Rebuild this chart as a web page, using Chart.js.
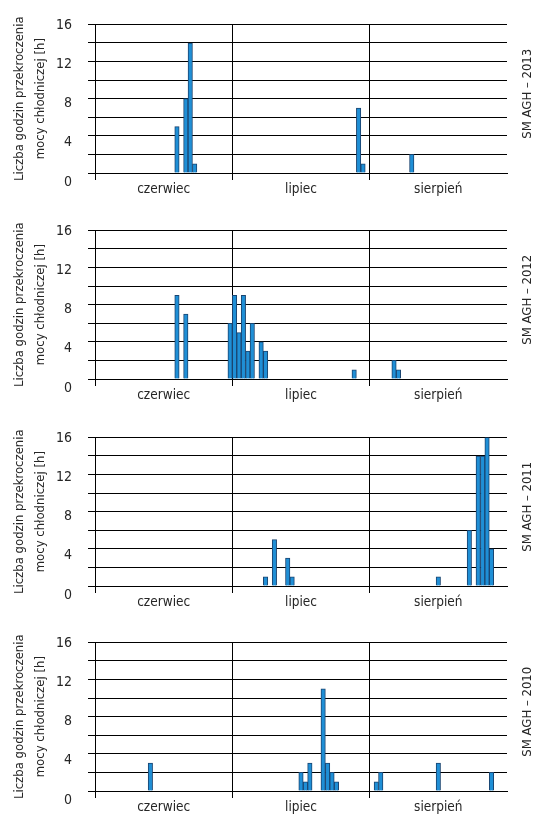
<!DOCTYPE html>
<html><head><meta charset="utf-8">
<script src="https://cdn.jsdelivr.net/npm/chart.js@4/dist/chart.umd.min.js"></script>
<style>
html,body{margin:0;padding:0;background:#fff;}
#wrap{position:relative;width:549px;height:816px;overflow:hidden;background:#fff;}
.panel{position:absolute;left:0;width:549px;height:198px;}
</style></head><body>
<div id="wrap">
<div class="panel" style="top:0px"><canvas id="c2013" width="549" height="198"></canvas></div>
<div class="panel" style="top:206px"><canvas id="c2012" width="549" height="198"></canvas></div>
<div class="panel" style="top:413px"><canvas id="c2011" width="549" height="198"></canvas></div>
<div class="panel" style="top:618px"><canvas id="c2010" width="549" height="198"></canvas></div>
</div>
<script>
// ---- data ----
const monthNames = ['czerwiec', 'lipiec', 'sierpień'];
const dayNumbers = [1,2,3,4,5,6,7,8,9,10,11,12,13,14,15,16,17,18,19,20,21,22,23,24,25,26,27,28,29,30,31];
const yTickLabels = [0, 4, 8, 12, 16];
const yTitle = ['Liczba godzin przekroczenia', 'mocy chłodniczej [h]'];
const stationName = 'SM AGH';

// hours per day: June (31 slots), July, August
const june2013 = [0,0,0,0,0, 0,0,0,0,0, 0,0,0,0,0, 0,0,0,5,0, 8,14,1,0,0, 0,0,0,0,0, 0];
const july2013 = [0,0,0,0,0, 0,0,0,0,0, 0,0,0,0,0, 0,0,0,0,0, 0,0,0,0,0, 0,0,0,7,1, 0];
const aug2013  = [0,0,0,0,0, 0,0,0,0,2, 0,0,0,0,0, 0,0,0,0,0, 0,0,0,0,0, 0,0,0,0,0, 0];

const june2012 = [0,0,0,0,0, 0,0,0,0,0, 0,0,0,0,0, 0,0,0,9,0, 7,0,0,0,0, 0,0,0,0,0, 6];
const july2012 = [9,5,9,3,6, 0,4,3,0,0, 0,0,0,0,0, 0,0,0,0,0, 0,0,0,0,0, 0,0,1,0,0, 0];
const aug2012  = [0,0,0,0,0, 2,1,0,0,0, 0,0,0,0,0, 0,0,0,0,0, 0,0,0,0,0, 0,0,0,0,0, 0];

const june2011 = [0,0,0,0,0, 0,0,0,0,0, 0,0,0,0,0, 0,0,0,0,0, 0,0,0,0,0, 0,0,0,0,0, 0];
const july2011 = [0,0,0,0,0, 0,0,1,0,5, 0,0,3,1,0, 0,0,0,0,0, 0,0,0,0,0, 0,0,0,0,0, 0];
const aug2011  = [0,0,0,0,0, 0,0,0,0,0, 0,0,0,0,0, 1,0,0,0,0, 0,0,6,0,14, 14,16,4,0,0, 0];

const june2010 = [0,0,0,0,0, 0,0,0,0,0, 0,0,3,0,0, 0,0,0,0,0, 0,0,0,0,0, 0,0,0,0,0, 0];
const july2010 = [0,0,0,0,0, 0,0,0,0,0, 0,0,0,0,0, 2,1,3,0,0, 11,3,2,1,0, 0,0,0,0,0, 0];
const aug2010  = [0,1,2,0,0, 0,0,0,0,0, 0,0,0,0,0, 3,0,0,0,0, 0,0,0,0,0, 0,0,2,0,0, 0];

// ---- styling ----
const FONT = "'Liberation Sans Narrow', 'DejaVu Sans Condensed', 'Arial Narrow', 'Liberation Sans', sans-serif";
const TEXT = '#262626';
const BAR_FILL = '#1f8fd6';
const BAR_EDGE = '#1a4470';

const slotLabels = [];
monthNames.forEach(m => dayNumbers.forEach(d => slotLabels.push(d + ' ' + m)));
const perMonth = dayNumbers.length;

const sideLabelPlugin = {
  id: 'sideLabel',
  afterDraw(chart, args, opts) {
    const {ctx, chartArea} = chart;
    ctx.save();
    ctx.translate(chartArea.right + 21, (chartArea.top + chartArea.bottom) / 2 - 5);
    ctx.rotate(-Math.PI / 2);
    ctx.font = '13px ' + FONT;
    ctx.fillStyle = TEXT;
    ctx.textAlign = 'center';
    ctx.textBaseline = 'middle';
    ctx.fillText(opts.text, 0, 0);
    ctx.restore();
  }
};

function makeChart(id, year, june, july, aug) {
  const values = june.concat(july, aug);
  return new Chart(document.getElementById(id), {
    type: 'bar',
    data: {
      labels: slotLabels,
      datasets: [{
        label: stationName + ' – ' + year,
        data: values,
        backgroundColor: BAR_FILL,
        borderColor: BAR_EDGE,
        borderWidth: 1,
        barPercentage: 1,
        categoryPercentage: 1,
        xAxisID: 'x',
        yAxisID: 'y'
      }]
    },
    options: {
      responsive: false,
      animation: false,
      devicePixelRatio: 1,
      layout: { padding: { top: 17, right: 42, left: 0, bottom: 0 } },
      plugins: {
        legend: { display: false },
        tooltip: { enabled: false },
        sideLabel: { text: stationName + ' – ' + year }
      },
      scales: {
        x: {
          type: 'category',
          grid: {
            offset: true,
            color: c => (c.index % perMonth === 0 && c.index < slotLabels.length) ? '#000' : 'rgba(0,0,0,0)',
            lineWidth: 1,
            tickLength: 7,
            drawTicks: true
          },
          border: { display: true, color: '#000' },
          ticks: {
            autoSkip: false, maxRotation: 0, minRotation: 0, padding: 1,
            color: TEXT, font: { family: FONT, size: 13.5 },
            callback: (v, i) => (i % perMonth === Math.floor(perMonth / 2)) ? monthNames[Math.floor(i / perMonth)] : ''
          },
          afterFit: s => { s.height = 25; }
        },
        y: {
          position: 'left',
          weight: 0,
          min: 0, max: 16,
          ticks: { stepSize: 2, display: false },
          grid: { color: '#000', lineWidth: 1, tickLength: 7, drawTicks: true },
          border: { display: true, color: '#000' },
          afterFit: s => { s.width = 7; }
        },
        yl: {
          position: 'left',
          weight: 1,
          min: 0.92, max: 16.07,
          grid: { display: false, drawTicks: false },
          border: { display: false },
          afterBuildTicks: s => { s.ticks = yTickLabels.map(v => ({ value: v })); },
          ticks: { padding: 16, color: TEXT, font: { family: FONT, size: 14 }, autoSkip: false },
          title: {
            display: true, text: yTitle, color: TEXT,
            font: { family: FONT, size: 13, lineHeight: 1.55 },
            padding: { top: 10, bottom: 0 }
          },
          afterFit: s => { s.width = 88; }
        }
      }
    },
    plugins: [sideLabelPlugin]
  });
}

makeChart('c2013', '2013', june2013, july2013, aug2013);
makeChart('c2012', '2012', june2012, july2012, aug2012);
makeChart('c2011', '2011', june2011, july2011, aug2011);
makeChart('c2010', '2010', june2010, july2010, aug2010);
</script>
</body></html>
